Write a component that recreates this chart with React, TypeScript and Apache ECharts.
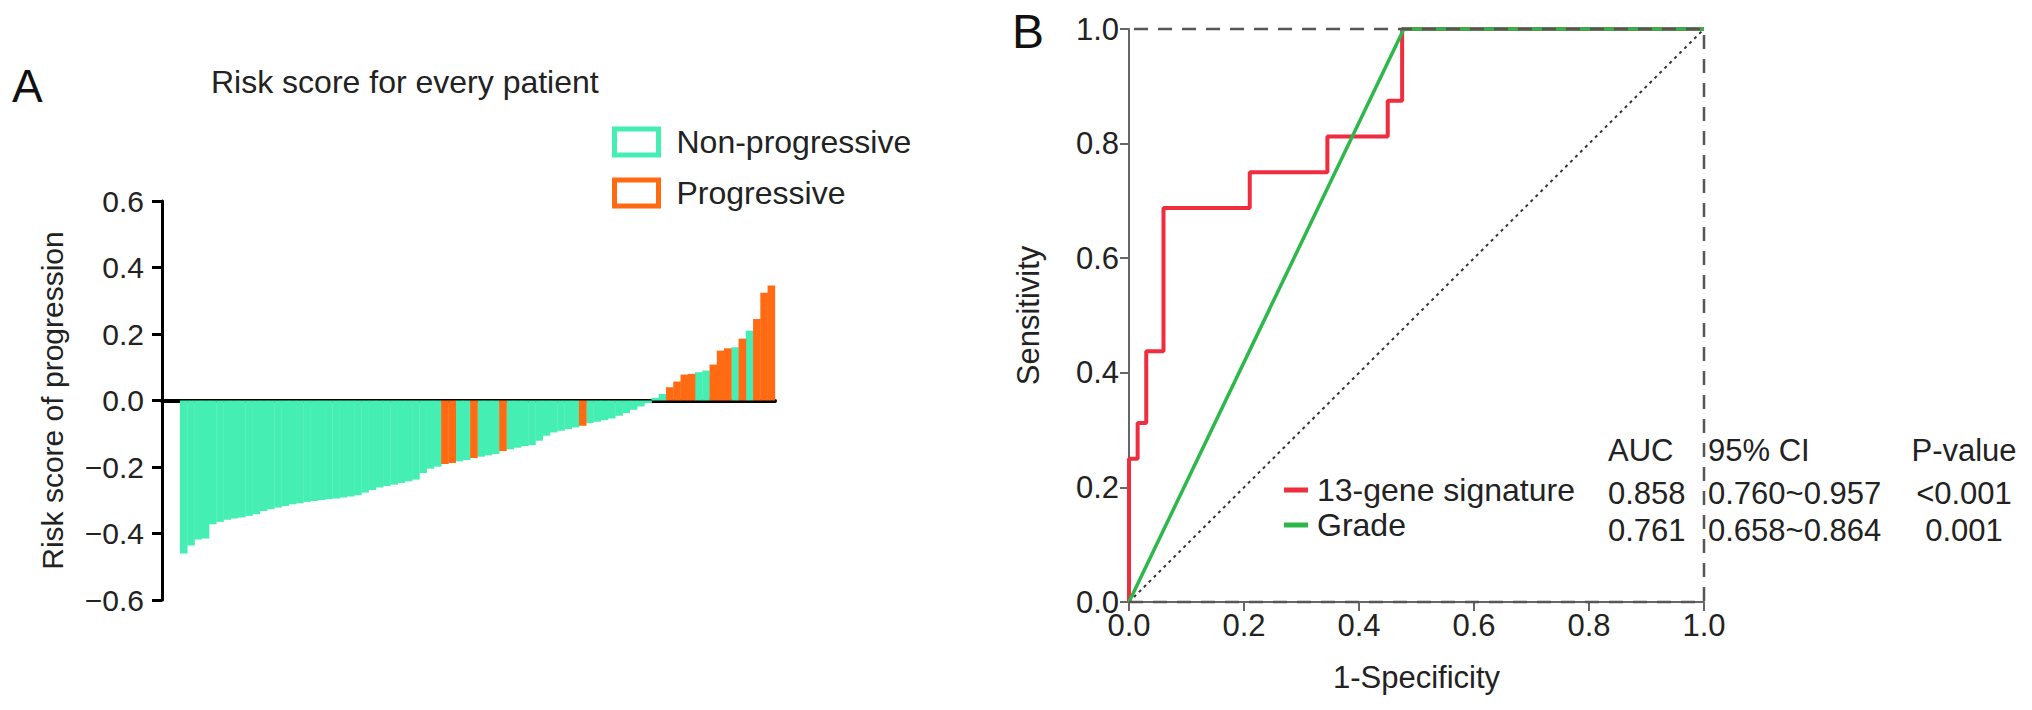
import React, { useEffect, useRef } from 'react';
import * as echarts from 'echarts';

// risk score of every patient, sorted ascending
const patientScores = [
  -0.46, -0.436, -0.418, -0.415, -0.372, -0.365, -0.359, -0.355, -0.352, -0.347,
  -0.342, -0.332, -0.327, -0.322, -0.317, -0.312, -0.309, -0.305, -0.302, -0.299,
  -0.297, -0.295, -0.292, -0.289, -0.285, -0.277, -0.269, -0.262, -0.257, -0.253,
  -0.248, -0.243, -0.238, -0.218, -0.205, -0.199, -0.191, -0.188, -0.183, -0.179,
  -0.173, -0.169, -0.165, -0.161, -0.152, -0.147, -0.142, -0.137, -0.134, -0.121,
  -0.106, -0.096, -0.091, -0.086, -0.081, -0.076, -0.068, -0.064, -0.059, -0.054,
  -0.046, -0.038, -0.028, -0.018, -0.008, 0.008, 0.02, 0.04, 0.057, 0.078,
  0.08, 0.085, 0.09, 0.108, 0.15, 0.157, 0.16, 0.186, 0.21, 0.245,
  0.324, 0.346,
];
// positions (in the sorted list) of the progressive patients
const progressiveIdx = [36, 37, 40, 44, 55, 67, 68, 69, 70, 73, 74, 75, 77, 79, 80, 81];
const groupNames = ['Non-progressive', 'Progressive'];

// ROC curves (1-specificity, sensitivity)
const rocSignature = [
  [0, 0], [0, 0.25], [0.015, 0.25], [0.015, 0.3125], [0.03, 0.3125], [0.03, 0.4375],
  [0.06, 0.4375], [0.06, 0.6875], [0.21, 0.6875], [0.21, 0.75], [0.345, 0.75],
  [0.345, 0.8125], [0.45, 0.8125], [0.45, 0.875], [0.475, 0.875], [0.475, 1], [1, 1],
];
const rocGrade = [[0, 0], [0.478, 1], [1, 1]];
const rocChance = [[0, 0], [1, 1]];
const rocFrame = [[0, 0], [1, 0], [1, 1], [0, 1]];
const rocNames = ['13-gene signature', 'Grade'];
const tableHead = ['AUC', '95% CI', 'P-value'];
const tableRows = [
  ['0.858', '0.760~0.957', '<0.001'],
  ['0.761', '0.658~0.864', '0.001'],
];

const FONT = '"Liberation Sans", Arial, Helvetica, sans-serif';
const GREEN = '#45EFB3';
const ORANGE = '#FF6A13';
const TXT = '#222';

const fmtSigned = (v: number) => (v < 0 ? '\u2212' : '') + Math.abs(v).toFixed(1);

const App: React.FC = () => {
  const chartRef = useRef<HTMLDivElement>(null);

  useEffect(() => {
    if (!chartRef.current) return;
    const chart = echarts.init(chartRef.current, null, { renderer: 'svg' });

    const isProg = new Set(progressiveIdx);
    const greenBars = patientScores.map((v, i) => (isProg.has(i) ? [i + 0.5, '-'] : [i + 0.5, v]));
    const orangeBars = patientScores.map((v, i) => (isProg.has(i) ? [i + 0.5, v] : [i + 0.5, '-']));

    const colX = [1608, 1708, 1964];
    const colAlign = ['left', 'left', 'center'];
    const rowY = [450, 493, 530];
    const tableTexts: any[] = [];
    [tableHead, ...tableRows].forEach((row, r) => {
      row.forEach((t, c) => {
        tableTexts.push({
          type: 'text',
          x: colX[c],
          y: rowY[r],
          style: {
            text: t,
            fontSize: 31,
            fontFamily: FONT,
            fill: TXT,
            align: colAlign[c],
            textAlign: colAlign[c],
            verticalAlign: 'middle',
            textVerticalAlign: 'middle',
          },
        });
      });
    });

    const axisLabel = { fontSize: 30, fontFamily: FONT, color: TXT };

    const option: echarts.EChartsOption = {
      animation: false,
      textStyle: { fontFamily: FONT },
      title: {
        text: 'Risk score for every patient',
        left: 206,
        top: 61,
        textStyle: { fontSize: 32, fontWeight: 'normal', color: TXT, fontFamily: FONT },
      },
      legend: [
        {
          orient: 'vertical',
          left: 612,
          top: 126,
          padding: 0,
          itemWidth: 44,
          itemHeight: 26,
          itemGap: 19,
          icon: 'rect',
          selectedMode: false,
          textStyle: { fontSize: 32, color: TXT, lineHeight: 30, padding: [0, 0, 0, 13] },
          data: [
            { name: groupNames[0], itemStyle: { color: '#fff', borderColor: GREEN, borderWidth: 5 } },
            { name: groupNames[1], itemStyle: { color: '#fff', borderColor: ORANGE, borderWidth: 5 } },
          ],
        },
        {
          orient: 'vertical',
          left: 1284,
          top: 474,
          padding: 0,
          itemWidth: 24,
          itemHeight: 5,
          itemGap: 3,
          icon: 'rect',
          selectedMode: false,
          textStyle: { fontSize: 32, color: TXT, lineHeight: 32, padding: [0, 0, 0, 4] },
          data: rocNames,
        },
      ],
      grid: [
        { left: 162, top: 201, width: 613, height: 399 },
        { left: 1129, top: 29, width: 575, height: 573 },
      ],
      xAxis: [
        {
          gridIndex: 0,
          type: 'value',
          min: -2.5,
          max: 82,
          axisLine: { show: true, onZero: true, lineStyle: { color: '#000', width: 4 } },
          axisTick: { show: false },
          axisLabel: { show: false },
          splitLine: { show: false },
        },
        {
          gridIndex: 1,
          type: 'value',
          min: 0,
          max: 1,
          interval: 0.2,
          name: '1-Specificity',
          nameLocation: 'middle',
          nameGap: 60,
          nameTextStyle: { fontSize: 31, color: TXT, fontFamily: FONT },
          axisLine: { onZero: false, lineStyle: { color: '#666', width: 2 } },
          axisTick: { length: 9, lineStyle: { color: '#666', width: 2 } },
          axisLabel: { ...axisLabel, fontSize: 31, margin: 8, formatter: (v: number) => v.toFixed(1) },
          splitLine: { show: false },
        },
      ],
      yAxis: [
        {
          gridIndex: 0,
          type: 'value',
          min: -0.6,
          max: 0.6,
          interval: 0.2,
          name: 'Risk score of progression',
          nameLocation: 'middle',
          nameGap: 95,
          nameTextStyle: { fontSize: 30, color: TXT, fontFamily: FONT },
          axisLine: { show: true, onZero: false, lineStyle: { color: '#000', width: 3 } },
          axisTick: { show: true, length: 10, lineStyle: { color: '#000', width: 3 } },
          axisLabel: { ...axisLabel, margin: 18, formatter: fmtSigned },
          splitLine: { show: false },
        },
        {
          gridIndex: 1,
          type: 'value',
          min: 0,
          max: 1,
          interval: 0.2,
          name: 'Sensitivity',
          nameLocation: 'middle',
          nameGap: 85,
          nameTextStyle: { fontSize: 31, color: TXT, fontFamily: FONT },
          axisLine: { show: true, onZero: false, lineStyle: { color: '#666', width: 2 } },
          axisTick: { show: true, length: 9, lineStyle: { color: '#666', width: 2 } },
          axisLabel: { ...axisLabel, fontSize: 31, margin: 10, formatter: (v: number) => v.toFixed(1) },
          splitLine: { show: false },
        },
      ],
      series: [
        {
          name: groupNames[0],
          type: 'bar',
          xAxisIndex: 0,
          yAxisIndex: 0,
          barWidth: 7.6,
          barGap: '-100%',
          itemStyle: { color: GREEN },
          data: greenBars as any,
        },
        {
          name: groupNames[1],
          type: 'bar',
          xAxisIndex: 0,
          yAxisIndex: 0,
          barWidth: 7.6,
          barGap: '-100%',
          itemStyle: { color: ORANGE },
          data: orangeBars as any,
        },
        {
          type: 'line',
          xAxisIndex: 1,
          yAxisIndex: 1,
          showSymbol: false,
          clip: false,
          lineStyle: { color: '#333', width: 2, type: [3, 4] },
          data: rocChance,
        },
        {
          name: rocNames[0],
          type: 'line',
          xAxisIndex: 1,
          yAxisIndex: 1,
          showSymbol: false,
          clip: false,
          color: '#EF2D3F',
          lineStyle: { color: '#EF2D3F', width: 4 },
          data: rocSignature,
        },
        {
          name: rocNames[1],
          type: 'line',
          xAxisIndex: 1,
          yAxisIndex: 1,
          showSymbol: false,
          clip: false,
          color: '#2DB84B',
          lineStyle: { color: '#2DB84B', width: 3.5 },
          data: rocGrade,
        },
        {
          type: 'line',
          xAxisIndex: 1,
          yAxisIndex: 1,
          showSymbol: false,
          clip: false,
          lineStyle: { color: '#555', width: 2.5, type: [14, 10] },
          data: rocFrame,
        },
      ],
      graphic: [
        {
          type: 'text',
          left: 12,
          top: 63,
          style: { text: 'A', fontSize: 46, fontFamily: FONT, fill: '#111' },
        },
        {
          type: 'text',
          left: 1012,
          top: 7,
          style: { text: 'B', fontSize: 48, fontFamily: FONT, fill: '#111' },
        },
        ...tableTexts,
      ],
    };

    chart.setOption(option);
    return () => {
      chart.dispose();
    };
  }, []);

  return (
    <div
      ref={chartRef}
      style={{ position: 'fixed', left: 0, top: 0, width: '2032px', height: '710px', background: '#fff' }}
    />
  );
};

export default App;
